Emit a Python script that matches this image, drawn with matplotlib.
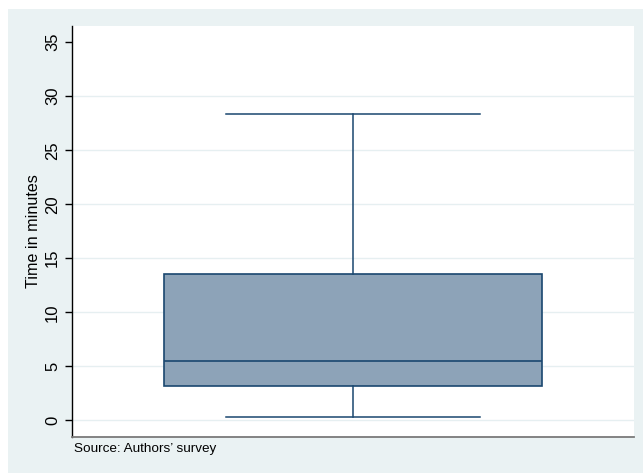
import matplotlib
matplotlib.use("Agg")
import matplotlib.pyplot as plt
from matplotlib.patches import Rectangle

plt.rcParams["font.family"] = ["Liberation Sans", "DejaVu Sans"]

# Summary statistics of travel time (minutes)
whisker_low = 0.33
q1 = 3.18
median = 5.46
q3 = 13.55
whisker_high = 28.36
y_ticks = [0, 5, 10, 15, 20, 25, 30, 35]
y_label = "Time in minutes"
note = "Source: Authors\u2019 survey"

W, H = 643, 473
fig = plt.figure(figsize=(W / 100, H / 100), dpi=100, facecolor="white")

# graph region background
fig.patches.append(Rectangle((8 / W, 0), 1 - 8 / W, (H - 9) / H,
                             transform=fig.transFigure, facecolor="#EAF2F3",
                             edgecolor="none", zorder=-10))

left, right, top, bottom = 72, 634, 26, 436.7
ax = fig.add_axes([left / W, (H - bottom) / H, (right - left) / W, (bottom - top) / H])
ax.set_facecolor("white")

stats = [dict(med=median, q1=q1, q3=q3, whislo=whisker_low, whishi=whisker_high,
              fliers=[], label="")]
navy = "#1A476F"
ax.bxp(stats, positions=[0], widths=1.345, capwidths=0.903, patch_artist=True,
       showfliers=False,
       boxprops=dict(facecolor="#8DA3B8", edgecolor=navy, linewidth=1.2),
       medianprops=dict(color=navy, linewidth=1.2),
       whiskerprops=dict(color=navy, linewidth=1.1),
       capprops=dict(color=navy, linewidth=1.1))

ax.set_xlim(-1, 1)
ax.set_ylim(-1.52, 36.5)
ax.set_xticks([])
ax.set_yticks(y_ticks)
ax.set_yticklabels([str(t) for t in y_ticks], rotation=90, va="center",
                   fontsize=12)
ax.tick_params(axis="y", length=5.2, width=1, color="black", pad=3.5)

for t in y_ticks[:-1]:
    ax.axhline(t, color="#E6EFF1", linewidth=1.0, zorder=0)

for s in ["top", "right"]:
    ax.spines[s].set_visible(False)
ax.spines["left"].set_color("black")
ax.spines["left"].set_linewidth(1.0)
ax.spines["bottom"].set_color("#7A7A7A")
ax.spines["bottom"].set_linewidth(1.3)

ax.set_ylabel(y_label, fontsize=11.6, labelpad=3)
fig.text(74 / W, 1 - 449 / H, note, fontsize=9.7, ha="left", va="center")

fig.savefig("out.png", dpi=100, facecolor="white")
